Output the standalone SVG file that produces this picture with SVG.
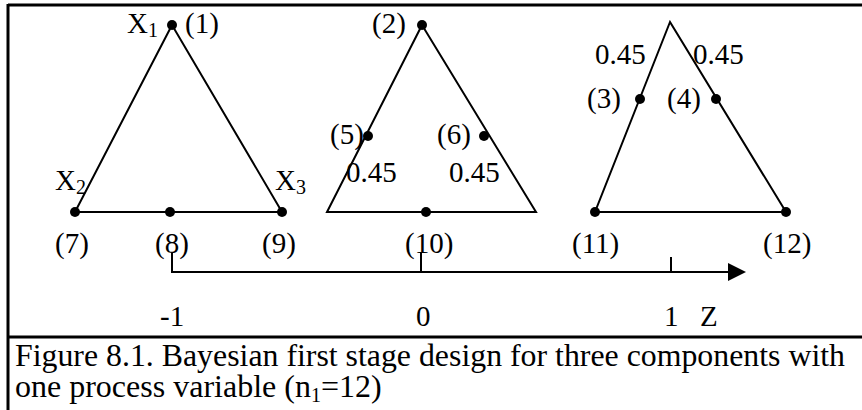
<svg xmlns="http://www.w3.org/2000/svg" width="862" height="410" viewBox="0 0 862 410">
<defs>
<style>
text{font-family:"Liberation Serif","Times New Roman",serif;font-size:29px;fill:#000}
.sub{font-size:20px}
.cap{font-size:32px}
.ln{stroke:#000;stroke-width:2;fill:none}
.fr{stroke:#000;stroke-width:3;fill:none}
.dot{fill:#000}
</style>
<marker id="arr" viewBox="0 0 10 10" refX="0" refY="5" markerWidth="18" markerHeight="20" markerUnits="userSpaceOnUse" orient="auto"><path d="M0,0 L10,5 L0,10 Z" fill="#000"/></marker>
</defs>
<rect width="862" height="410" fill="#fff"/>
<g id="frame">
<line class="fr" x1="8" y1="5" x2="862" y2="5"/>
<line class="fr" x1="8" y1="4" x2="8" y2="410"/>
<line class="fr" x1="8" y1="337" x2="862" y2="337"/>
</g>
<g id="triangle1">
<polygon class="ln" points="172,25 75,212 282,212"/>
<circle class="dot" cx="172" cy="25" r="5"/>
<circle class="dot" cx="75" cy="212" r="5"/>
<circle class="dot" cx="170" cy="212" r="5"/>
<circle class="dot" cx="282" cy="212" r="5"/>
<text x="127" y="33">X<tspan class="sub" dy="4">1</tspan></text>
<text x="185" y="33">(1)</text>
<text x="55" y="190">X<tspan class="sub" dy="4">2</tspan></text>
<text x="275" y="190">X<tspan class="sub" dy="4">3</tspan></text>
<text x="55" y="253">(7)</text>
<text x="155" y="253">(8)</text>
<text x="262" y="253">(9)</text>
</g>
<g id="triangle2">
<polygon class="ln" points="422,25 327,212 536,212"/>
<circle class="dot" cx="422" cy="25" r="5"/>
<circle class="dot" cx="368" cy="136" r="5"/>
<circle class="dot" cx="484" cy="136" r="5"/>
<circle class="dot" cx="426" cy="212" r="5"/>
<text x="372" y="33">(2)</text>
<text x="330" y="144">(5)</text>
<text x="437" y="144">(6)</text>
<text x="346" y="182">0.45</text>
<text x="449" y="182">0.45</text>
<text x="405" y="253">(10)</text>
</g>
<g id="triangle3">
<polygon class="ln" points="670,22 595,212 786,212"/>
<circle class="dot" cx="640" cy="99" r="5"/>
<circle class="dot" cx="716" cy="99" r="5"/>
<circle class="dot" cx="595" cy="212" r="5"/>
<circle class="dot" cx="786" cy="212" r="5"/>
<text x="595" y="64">0.45</text>
<text x="693" y="64">0.45</text>
<text x="587" y="108">(3)</text>
<text x="667" y="108">(4)</text>
<text x="572" y="253">(11)</text>
<text x="763" y="253">(12)</text>
</g>
<g id="connectors">
<polyline class="ln" points="172,253 172,272 728,272" marker-end="url(#arr)"/>
<line class="ln" x1="421" y1="253" x2="421" y2="272"/>
<line class="ln" x1="671" y1="257" x2="671" y2="272"/>
</g>
<g id="axis-labels">
<text x="160" y="326">-1</text>
<text x="416" y="326">0</text>
<text x="664" y="326">1</text>
<text x="700" y="326">Z</text>
</g>
<g id="caption">
<text class="cap" x="15" y="366" textLength="830" lengthAdjust="spacingAndGlyphs">Figure 8.1. Bayesian first stage design for three components with</text>
<text class="cap" x="15" y="397">one process variable (n<tspan class="sub" dy="5">1</tspan><tspan dy="-5">=12)</tspan></text>
</g>
</svg>
